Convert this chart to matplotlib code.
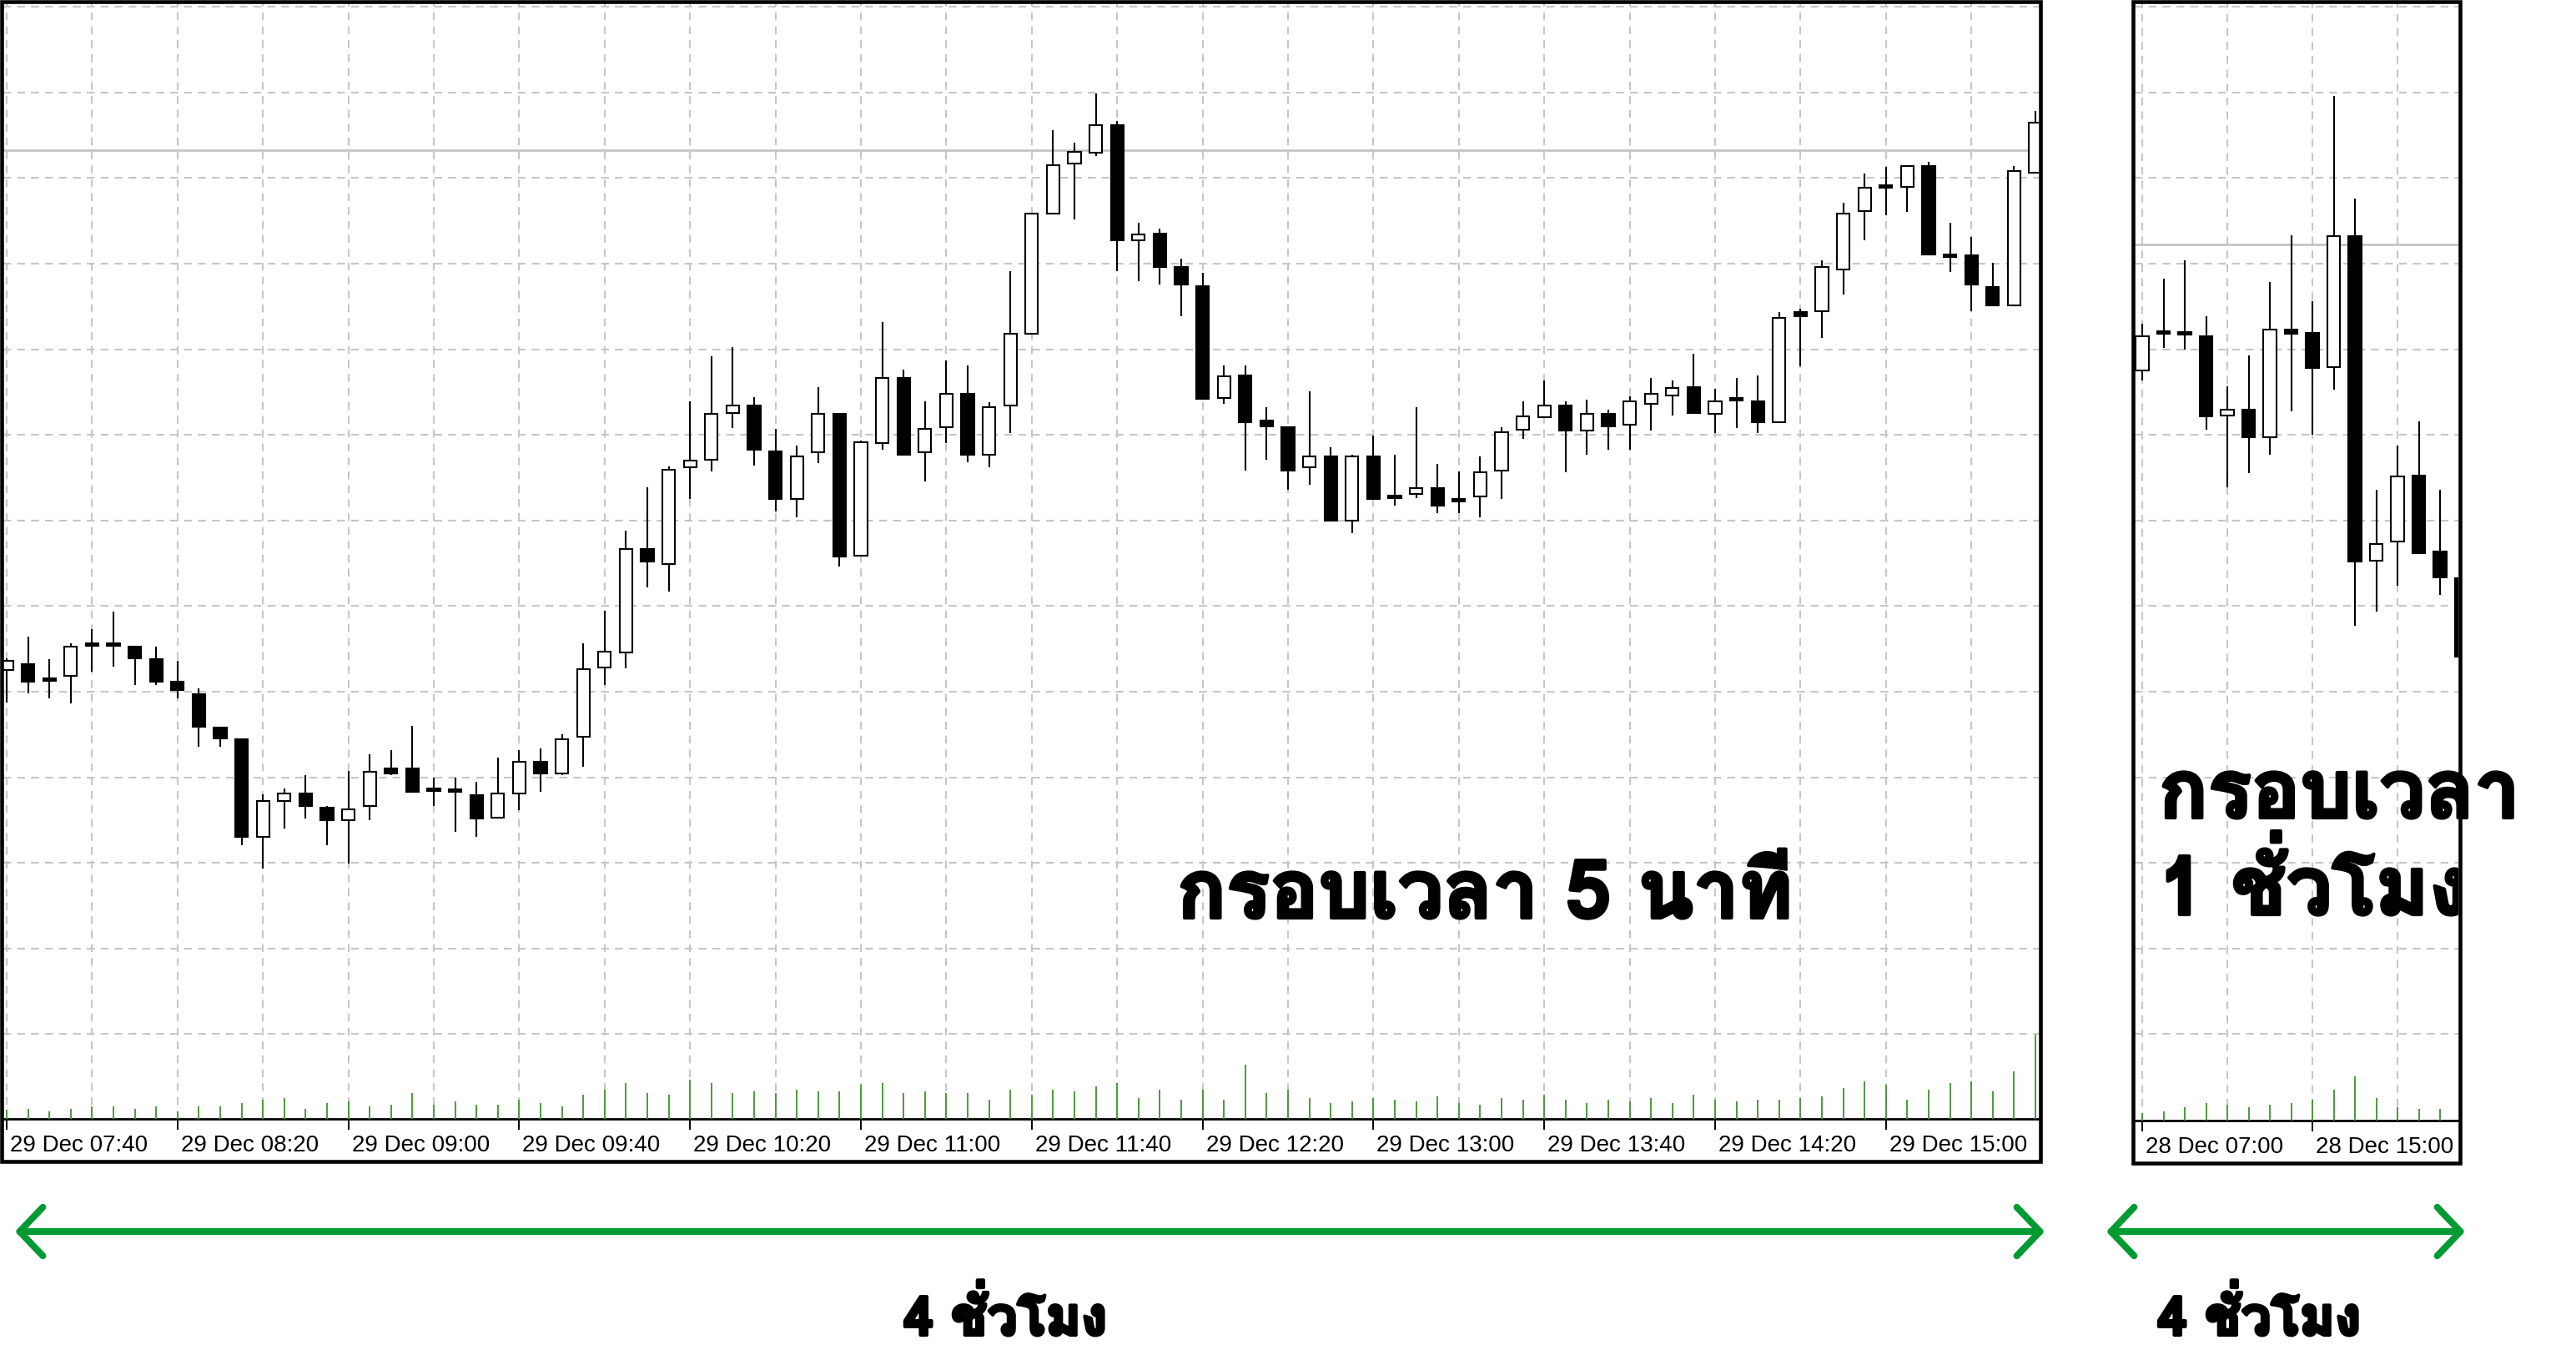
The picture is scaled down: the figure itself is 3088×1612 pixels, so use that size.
import numpy as np
import pandas as pd
import matplotlib
matplotlib.use('Agg')
import matplotlib.pyplot as plt
from matplotlib import font_manager, patheffects
from matplotlib.ft2font import FT2Font
from matplotlib.patches import Rectangle, FancyArrowPatch, ArrowStyle
from matplotlib.transforms import ScaledTranslation

plt.rcParams['font.family'] = ['Liberation Sans', 'DejaVu Sans']

# 5 minute bars from 29 Dec 07:40 (price in grid units, one grid row = 1.0)
m5_open = [5.25, 5.32, 5.15, 5.19, 5.57, 5.57, 5.53, 5.38, 5.12, 4.97,
           4.58, 4.44, 3.30, 3.72, 3.81, 3.65, 3.50, 3.66, 4.10, 4.10,
           3.85, 3.85, 3.79, 3.53, 3.81, 4.18, 4.04, 4.47, 5.28, 5.46,
           6.67, 6.49, 7.62, 7.71, 8.26, 8.34, 7.81, 7.25, 7.80, 8.25,
           6.59, 7.90, 8.66, 7.80, 8.09, 8.48, 7.77, 8.34, 9.18, 10.58,
           11.17, 11.30, 11.62, 10.27, 10.35, 9.96, 9.74, 8.43, 8.69, 8.17,
           8.09, 7.62, 7.75, 7.00, 7.75, 7.29, 7.31, 7.38, 7.25, 7.28,
           7.58, 8.06, 8.21, 8.34, 8.05, 8.25, 8.12, 8.36, 8.46, 8.56,
           8.25, 8.43, 8.39, 8.15, 9.43, 9.44, 9.93, 10.61, 10.90, 10.90,
           11.14, 10.10, 10.10, 9.73, 9.51, 11.06]
m5_high = [5.39, 5.64, 5.38, 5.57, 5.73, 5.94, 5.54, 5.53, 5.36, 5.04,
           4.58, 4.44, 3.80, 3.87, 4.03, 3.66, 4.07, 4.27, 4.32, 4.60,
           4.00, 4.00, 3.95, 4.23, 4.32, 4.34, 4.50, 5.57, 5.95, 6.88,
           7.39, 7.63, 8.39, 8.92, 9.03, 8.44, 8.07, 7.88, 8.56, 8.25,
           7.93, 9.32, 8.76, 8.39, 8.87, 8.81, 8.38, 9.91, 10.58, 11.56,
           11.41, 11.99, 11.67, 10.48, 10.41, 10.06, 9.89, 8.81, 8.81, 8.32,
           8.09, 8.51, 7.86, 7.77, 7.99, 7.77, 8.32, 7.66, 7.57, 7.75,
           8.09, 8.39, 8.64, 8.39, 8.41, 8.29, 8.45, 8.66, 8.64, 8.95,
           8.54, 8.66, 8.69, 9.43, 9.47, 10.04, 10.71, 11.05, 11.13, 11.14,
           11.19, 10.48, 10.31, 10.01, 11.14, 11.78]
m5_low = [4.87, 4.98, 4.92, 4.86, 5.23, 5.29, 5.08, 5.08, 4.92, 4.36,
          4.36, 3.21, 2.93, 3.40, 3.52, 3.21, 2.99, 3.50, 4.03, 3.82,
          3.66, 3.36, 3.30, 3.53, 3.62, 3.83, 4.03, 4.12, 5.08, 5.27,
          6.22, 6.17, 7.25, 7.57, 8.08, 7.64, 7.11, 7.04, 7.67, 6.46,
          6.58, 7.83, 7.77, 7.46, 7.90, 7.68, 7.62, 8.02, 9.18, 10.58,
          10.52, 11.26, 9.91, 9.80, 9.76, 9.39, 8.42, 8.36, 7.58, 7.71,
          7.36, 7.42, 7.00, 6.85, 7.25, 7.17, 7.26, 7.09, 7.09, 7.04,
          7.25, 7.95, 8.20, 7.56, 7.77, 7.83, 7.83, 8.05, 8.23, 8.25,
          8.02, 8.08, 8.02, 8.15, 8.80, 9.13, 9.64, 10.27, 10.57, 10.60,
          10.11, 9.90, 9.44, 9.51, 9.51, 11.06]
m5_close = [5.36, 5.12, 5.13, 5.53, 5.54, 5.54, 5.39, 5.12, 5.02, 4.59,
            4.45, 3.30, 3.72, 3.81, 3.66, 3.50, 3.63, 4.06, 4.04, 3.83,
            3.84, 3.83, 3.52, 3.81, 4.18, 4.04, 4.44, 5.26, 5.47, 6.67,
            6.52, 7.59, 7.70, 8.25, 8.34, 7.83, 7.25, 7.75, 8.25, 6.58,
            7.91, 8.66, 7.77, 8.07, 8.48, 7.77, 8.32, 9.18, 10.58, 11.15,
            11.31, 11.62, 10.27, 10.34, 9.96, 9.76, 8.42, 8.68, 8.15, 8.10,
            7.58, 7.75, 7.00, 7.75, 7.25, 7.26, 7.38, 7.17, 7.22, 7.56,
            8.03, 8.22, 8.34, 8.05, 8.25, 8.10, 8.39, 8.48, 8.55, 8.26,
            8.39, 8.40, 8.15, 9.37, 9.39, 9.96, 10.58, 10.89, 10.89, 11.14,
            10.11, 10.08, 9.76, 9.51, 11.08, 11.65]
m5_volume = [107, 123, 90, 123, 153, 147, 123, 147, 90, 147,
             147, 187, 227, 247, 123, 187, 207, 147, 167, 307,
             167, 207, 167, 167, 227, 187, 147, 287, 347, 427,
             307, 287, 467, 427, 307, 327, 307, 347, 327, 327,
             407, 427, 307, 327, 307, 307, 227, 347, 287, 347,
             327, 387, 427, 247, 347, 227, 347, 227, 647, 307,
             347, 247, 187, 207, 247, 227, 207, 267, 187, 167,
             247, 227, 287, 227, 187, 227, 207, 247, 187, 287,
             227, 207, 227, 227, 247, 267, 367, 447, 407, 227,
             347, 427, 447, 327, 567, 1010]
m5_line = 11.33

# 1 hour bars from 28 Dec 07:00
h1_open = [8.75, 9.19, 9.18, 9.15, 8.23, 8.29, 7.97, 9.23, 9.19, 8.79,
           10.32, 6.53, 6.75, 7.52, 6.64, 6.33]
h1_high = [9.30, 9.82, 10.04, 9.39, 8.57, 8.93, 9.79, 10.33, 9.56, 11.96,
           10.76, 7.36, 7.88, 8.16, 7.36, 6.33]
h1_low = [8.64, 9.02, 9.00, 8.06, 7.39, 7.55, 7.77, 8.27, 8.00, 8.53,
          5.77, 5.94, 6.24, 6.62, 6.13, 5.41]
h1_close = [9.15, 9.18, 9.17, 8.22, 8.29, 7.97, 9.23, 9.18, 8.78, 10.32,
            6.52, 6.73, 7.51, 6.62, 6.34, 5.41]
h1_volume = [90, 107, 165, 210, 188, 165, 188, 210, 246, 366,
             527, 268, 165, 143, 143, 200]
h1_line = 10.22

m5_times = pd.date_range('2020-12-29 07:40', periods=len(m5_open), freq='5min')
h1_times = pd.date_range('2020-12-28 07:00', periods=len(h1_open), freq='h')

title_m5 = 'กรอบเวลา 5 นาที'
title_h1 = ['กรอบเวลา', '1 ชั่วโมง']
span_label = '4 ชั่วโมง'

W, H = 3088, 1612
GRID_Y0, GRID_STEP = 1342, 102.6
GREEN = '#009a33'


def thai_font():
    prefs = ['tahoma', 'loma', 'noto sans thai looped', 'garuda', 'noto sans thai',
             'waree', 'umpush', 'sawasdee', 'kinnari', 'norasi']
    best, best_key = None, None
    for f in font_manager.fontManager.ttflist:
        try:
            cmap = FT2Font(f.fname).get_charmap()
        except Exception:
            continue
        if 0x0E01 not in cmap or 0x0E21 not in cmap or 0x35 not in cmap:
            continue
        name = f.name.lower()
        rank = len(prefs)
        for k, p in enumerate(prefs):
            if name.startswith(p):
                rank = k
                break
        w = f.weight if isinstance(f.weight, (int, float)) else 400
        key = (w < 600, rank, abs(w - 700), f.style != 'normal')
        if best_key is None or key < best_key:
            best, best_key = f, key
    if best is None:
        return font_manager.FontProperties(family='DejaVu Sans', weight='bold'), True
    w = best.weight if isinstance(best.weight, (int, float)) else 400
    return font_manager.FontProperties(fname=best.fname), w >= 600


def px_rect(x0, y0, x1, y1):
    return [x0 / W, 1 - y1 / H, (x1 - x0) / W, (y1 - y0) / H]


def panel(fig, area, first_px, pitch, o, h, l, c, vol, times, line_price):
    left, top, right, bottom = area
    o, h, l, c = map(np.asarray, (o, h, l, c))
    x = np.arange(len(o))
    ax = fig.add_axes(px_rect(left, top, right, bottom))
    ax.set_xlim((left - first_px) / pitch, (right - first_px) / pitch)
    ax.set_ylim((GRID_Y0 - bottom) / GRID_STEP, (GRID_Y0 - top) / GRID_STEP)

    # grid every 4 bars / every price unit
    ax.xaxis.remove_overlapping_locs = False
    ax.set_xticks(np.arange(0, len(o), 4))
    ax.set_yticks(np.arange(1, 14))
    ax.grid(True, which='major', color='#c6c6c6', lw=1.5, ls=(0, (4.5, 3.5)))
    ax.tick_params(which='major', length=0, labelbottom=False, labelleft=False)

    # time labels every 8 bars
    pos = np.arange(0, len(o), 8)
    ax.set_xticks(pos, minor=True)
    ax.set_xticklabels([times[p].strftime('%d %b %H:%M') for p in pos], minor=True, ha='left')
    ax.tick_params(which='minor', length=9.5, width=1.4, pad=4, labelsize=20,
                   direction='out', labelbottom=True, bottom=True)
    for lab in ax.get_xticklabels(minor=True):
        lab.set_transform(lab.get_transform() + ScaledTranslation(0.04, 0, fig.dpi_scale_trans))

    for s in ['left', 'right', 'top']:
        ax.spines[s].set_visible(False)
    ax.spines['bottom'].set_linewidth(2)

    ax.axhline(line_price, color='#c4c4c4', lw=2, zorder=2)

    up = c >= o
    ax.vlines(x, l, h, color='black', lw=1.5, zorder=3)
    ax.bar(x, np.maximum(np.abs(c - o), 0.03), bottom=np.minimum(o, c), width=0.6,
           color=np.where(up, 'white', 'black'), edgecolor='black', linewidth=1.5, zorder=4)

    axv = ax.twinx()
    axv.set_ylim(0, (bottom - top) * 10)
    axv.vlines(x, 0, vol, color='#4a9a3a', lw=1.4)
    axv.set_axis_off()

    fig.add_artist(Rectangle(((left - 2) / W, 1 - (bottom + 51) / H), (right - left + 4) / W,
                             (bottom + 51 - 2) / H, transform=fig.transFigure, fill=False,
                             ec='black', lw=3.3, zorder=10))
    return ax


fig = plt.figure(figsize=(W / 100, H / 100), dpi=100)

ax_m5 = panel(fig, (4, 4, 2444, 1341), 8, 25.6, m5_open, m5_high, m5_low, m5_close,
              m5_volume, m5_times, m5_line)
ax_h1 = panel(fig, (2559, 4, 2947, 1343), 2568, 25.5, h1_open, h1_high, h1_low, h1_close,
              h1_volume, h1_times, h1_line)

thai, is_bold = thai_font()
# a thin outline in the text colour makes the face as heavy as the original
fx = [patheffects.withStroke(linewidth=3 if is_bold else 4.5, foreground='black')]


def ftext(x, y, s, size, **kw):
    return fig.text(x / W, 1 - y / H, s, fontproperties=thai, fontsize=size,
                    fontweight='bold', color='black', va='baseline', zorder=12,
                    path_effects=fx, **kw)


ftext(1780, 1100, title_m5, 70, ha='center')
ftext(2588, 980, title_h1[0], 70, ha='left')
t2 = ftext(2588, 1096, title_h1[1], 70, ha='left')
t2.set_clip_box(ax_h1.bbox)
t2.set_clip_on(True)

for a, b, cx in [(18, 2451, 1205), (2525, 2955, 2708)]:
    arr = FancyArrowPatch((a / W, 1 - 1476 / H), (b / W, 1 - 1476 / H),
                          transform=fig.transFigure, color=GREEN, lw=5.8,
                          arrowstyle=ArrowStyle('<->', head_length=20, head_width=21),
                          shrinkA=0, shrinkB=0, capstyle='round', joinstyle='round', zorder=11)
    fig.add_artist(arr)
    ftext(cx, 1600, span_label, 46, ha='center')

fig.savefig('out.png', dpi=100, facecolor='white')
